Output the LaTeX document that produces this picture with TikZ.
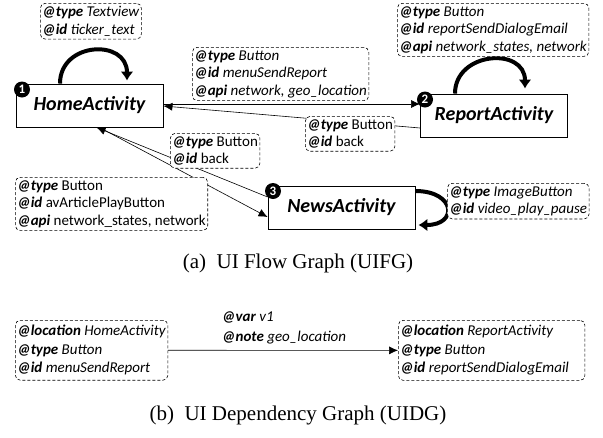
\documentclass[tikz,border=0pt]{standalone}
\usepackage{fontspec}
\setmainfont{Carlito}
\newfontfamily\capfont{Liberation Serif}
\usetikzlibrary{arrows.meta}
% key/value lines of an annotation: italic value, or upright value
\newcommand\kv[2]{\textbf{\textit{@#1}} \textit{#2}}
\newcommand\ku[2]{\textbf{\textit{@#1}} #2}
\begin{document}
\begin{tikzpicture}[x=1pt,y=-1pt,
  act/.style={draw, fill=white, line width=0.9pt, minimum width=147pt, minimum height=43pt,
    font=\fontsize{20}{22}\selectfont\bfseries\itshape, inner sep=0pt},
  tag/.style={draw, fill=white, dash pattern=on 3pt off 2pt, rounded corners=5pt, align=left,
    anchor=north west, font=\fontsize{15}{17.5}\selectfont, inner xsep=2pt, inner ysep=3pt,
    line width=0.6pt},
  deptag/.style={tag, font=\fontsize{15}{18.5}\selectfont, inner ysep=5pt},
  plain/.style={align=left, anchor=north west, font=\fontsize{15}{19.5}\selectfont,
    inner xsep=2pt, inner ysep=3pt},
  badge/.style={circle, fill=black, text=white, font=\fontsize{13}{13}\selectfont\bfseries,
    inner sep=0pt, minimum size=16pt},
  flow/.style={-{Latex[length=9pt,width=8pt]}, line width=0.6pt},
  selfloop/.style={-{Latex[length=9pt,width=13pt]}, line width=4pt},
  caption/.style={font=\capfont\fontsize{21}{23}\selectfont},
]
\useasboundingbox (0,0) rectangle (603,437);

% activities
\node[act] (home)   at (89.5,105.5) {HomeActivity};
\node[act] (report) at (494,115.5)  {ReportActivity};
\node[act] (news)   at (341.5,207.5) {NewsActivity};

% transitions between activities
\draw[flow] ([yshift=1.5pt]home.east) -- ([yshift=11.5pt]report.west);
\draw[flow] ([yshift=-12.5pt]report.west) -- ([yshift=-0.5pt]home.east);
\draw[flow] ([yshift=10.5pt]news.west) -- ([xshift=7pt]home.south);
\draw[flow] ([xshift=10pt]home.south) -- ([yshift=-9.5pt]news.west);

% self transitions
\draw[selfloop] ([xshift=-29.5pt]home.north) .. controls +(0,-42) and +(0,-42) .. ([xshift=37.5pt,yshift=3pt]home.north);
\draw[selfloop] ([xshift=-39pt]report.north) .. controls +(0,-42) and +(0,-42) .. ([xshift=31pt,yshift=5pt]report.north);
\draw[selfloop] ([yshift=16.5pt]news.east) .. controls +(40,0) and +(40,0) .. ([xshift=3pt,yshift=-17.5pt]news.east);

% step numbers
\node[badge] (b1) at (22,89.5)  {1};
\node[badge] (b2) at (425,99.5) {2};
\node[badge] (b3) at (273,191)  {3};

% widget annotations
\node[tag] (t1) at (40,3)    {\kv{type}{Textview}\\\kv{id}{ticker\_text}};
\node[tag] (t2) at (192,47)  {\kv{type}{Button}\\\kv{id}{menuSendReport}\\\kv{api}{network, geo\_location}};
\node[tag] (t3) at (397,3)   {\kv{type}{Button}\\\kv{id}{reportSendDialogEmail}\\\kv{api}{network\_states, network}};
\node[tag] (t4) at (305,116) {\ku{type}{Button}\\\ku{id}{back}};
\node[tag] (t5) at (170,133) {\ku{type}{Button}\\\ku{id}{back}};
\node[tag] (t6) at (15,177)  {\ku{type}{Button}\\\ku{id}{avArticlePlayButton}\\\ku{api}{network\_states, network}};
\node[tag] (t7) at (447,183) {\kv{type}{ImageButton}\\\kv{id}{video\_play\_pause}};

\node[caption] (capa) at (298,263) {(a)\enspace UI Flow Graph (UIFG)};

% dependency graph
\node[deptag] (t8) at (15,320)  {\kv{location}{HomeActivity}\\\kv{type}{Button}\\\kv{id}{menuSendReport}};
\node[deptag] (t9) at (398,320) {\kv{location}{ReportActivity}\\\kv{type}{Button}\\\kv{id}{reportSendDialogEmail}\hspace*{14pt}};
\draw[flow] (t8.east) -- (t9.west);
\node[plain] (dep) at (220,309) {\kv{var}{v1}\\\kv{note}{geo\_location}};

\node[caption] (capb) at (298,415) {(b)\enspace UI Dependency Graph (UIDG)};
\end{tikzpicture}
\end{document}
